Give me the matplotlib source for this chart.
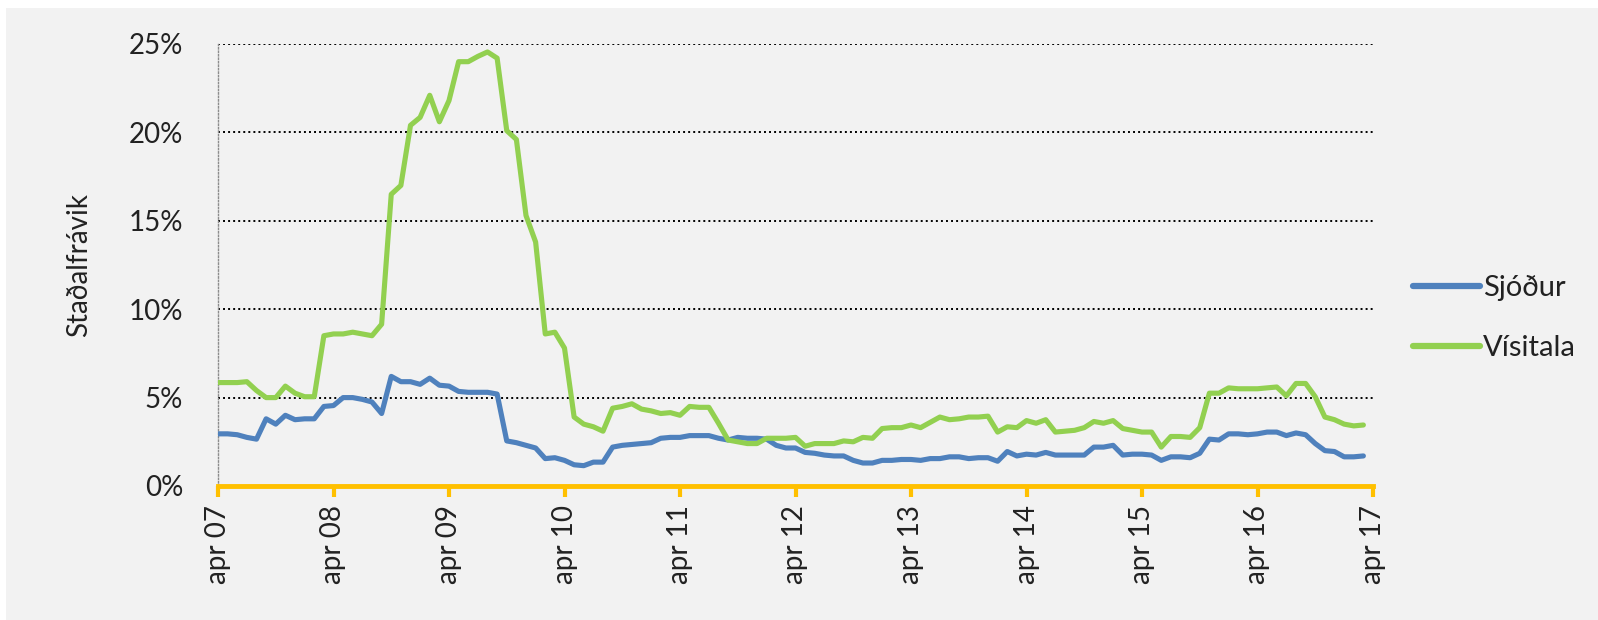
import matplotlib
matplotlib.use("Agg")
import matplotlib.pyplot as plt
from matplotlib.patches import Rectangle
from matplotlib.ticker import FuncFormatter

# Monthly standard deviation (%), April 2007 - March 2017
sjodur = [
    2.95, 2.95, 2.9, 2.75, 2.65, 3.8, 3.5, 4.0, 3.75, 3.8, 3.8, 4.5,
    4.55, 5.0, 5.0, 4.9, 4.75, 4.1, 6.2, 5.9, 5.9, 5.75, 6.1, 5.7,
    5.65, 5.35, 5.3, 5.3, 5.3, 5.2, 2.55, 2.45, 2.3, 2.15, 1.55, 1.6,
    1.45, 1.2, 1.15, 1.35, 1.35, 2.2, 2.3, 2.35, 2.4, 2.45, 2.7, 2.75,
    2.75, 2.85, 2.85, 2.85, 2.7, 2.6, 2.75, 2.7, 2.7, 2.65, 2.3, 2.15,
    2.15, 1.9, 1.85, 1.75, 1.7, 1.7, 1.45, 1.3, 1.3, 1.45, 1.45, 1.5,
    1.5, 1.45, 1.55, 1.55, 1.65, 1.65, 1.55, 1.6, 1.6, 1.4, 1.95, 1.7,
    1.8, 1.75, 1.9, 1.75, 1.75, 1.75, 1.75, 2.2, 2.2, 2.3, 1.75, 1.8,
    1.8, 1.75, 1.45, 1.65, 1.65, 1.6, 1.85, 2.65, 2.6, 2.95, 2.95, 2.9,
    2.95, 3.05, 3.05, 2.85, 3.0, 2.9, 2.4, 2.0, 1.95, 1.65, 1.65, 1.7,
]
visitala = [
    5.85, 5.85, 5.85, 5.9, 5.4, 5.0, 5.0, 5.65, 5.25, 5.05, 5.05, 8.5,
    8.6, 8.6, 8.7, 8.6, 8.5, 9.15, 16.5, 17.0, 20.4, 20.85, 22.1, 20.6,
    21.8, 24.0, 24.0, 24.3, 24.55, 24.2, 20.1, 19.6, 15.3, 13.8, 8.6, 8.7,
    7.8, 3.9, 3.5, 3.35, 3.1, 4.4, 4.5, 4.65, 4.35, 4.25, 4.1, 4.15,
    4.0, 4.5, 4.45, 4.45, 3.55, 2.6, 2.5, 2.4, 2.4, 2.7, 2.7, 2.7,
    2.75, 2.25, 2.4, 2.4, 2.4, 2.55, 2.5, 2.75, 2.7, 3.25, 3.3, 3.3,
    3.45, 3.3, 3.6, 3.9, 3.75, 3.8, 3.9, 3.9, 3.95, 3.05, 3.35, 3.3,
    3.7, 3.55, 3.75, 3.05, 3.1, 3.15, 3.3, 3.65, 3.55, 3.7, 3.25, 3.15,
    3.05, 3.05, 2.2, 2.8, 2.8, 2.75, 3.3, 5.25, 5.25, 5.55, 5.5, 5.5,
    5.5, 5.55, 5.6, 5.1, 5.8, 5.8, 5.05, 3.9, 3.75, 3.5, 3.4, 3.45,
]
year_labels = ["apr 07", "apr 08", "apr 09", "apr 10", "apr 11", "apr 12",
               "apr 13", "apr 14", "apr 15", "apr 16", "apr 17"]
y_ticks = [0, 5, 10, 15, 20, 25]
series_names = ["Sjóður", "Vísitala"]
y_title = "Staðalfrávik"

plt.rcParams["font.family"] = ["Lato", "DejaVu Sans"]
plt.rcParams["font.weight"] = "normal"

W, H = 1598, 620
fig = plt.figure(figsize=(W / 100, H / 100), dpi=100)
fig.patch.set_facecolor("white")
fig.add_artist(Rectangle((6 / W, 0), 1, 1 - 8 / H, transform=fig.transFigure,
                         facecolor="#f2f2f2", edgecolor="none", zorder=-10))

ax = fig.add_axes([218 / W, 1 - 486 / H, (1373 - 218) / W, (486 - 44) / H])
ax.set_facecolor("#f2f2f2")

months = list(range(len(sjodur)))
ax.plot(months, sjodur, color="#4f81bd", lw=3.7, solid_joinstyle="round",
        solid_capstyle="round", label=series_names[0], zorder=3)
ax.plot(months, visitala, color="#92d050", lw=3.7, solid_joinstyle="round",
        solid_capstyle="round", label=series_names[1], zorder=3)

ax.set_xlim(0, 120)
ax.set_ylim(0, 25)
ax.set_xticks(range(0, 121, 12))
ax.set_xticklabels(year_labels, rotation=90, fontsize=20, color="#222222")
ax.set_yticks(y_ticks)
ax.yaxis.set_major_formatter(FuncFormatter(lambda v, p: f"{v:.0f}%"))
ax.tick_params(axis="y", length=0, pad=25, labelsize=20, labelcolor="#222222")
ax.tick_params(axis="x", direction="out", length=8, width=3, color="#ffc000",
               pad=6)

for v in y_ticks[1:]:
    ax.axhline(v, color="black", lw=1.4, ls=(0, (1, 1.6)), zorder=1)

for s in ["top", "right"]:
    ax.spines[s].set_visible(False)
ax.spines["left"].set_color("#8c8c8c")
ax.spines["left"].set_linewidth(1.0)
ax.spines["left"].set_linestyle((0, (1, 1.5)))
ax.spines["bottom"].set_color("#ffc000")
ax.spines["bottom"].set_linewidth(3.5)
ax.spines["bottom"].set_zorder(4)

ax.set_ylabel(y_title, fontsize=20, color="#222222", fontweight="normal")
ax.yaxis.set_label_coords(-(218 - 92) / (1373 - 218), 0.5)

leg = ax.legend(loc="center left", bbox_to_anchor=(1.012, 0.38), frameon=False,
                fontsize=21, handlelength=2.3, handletextpad=0.1,
                labelspacing=1.15)
for line in leg.get_lines():
    line.set_linewidth(4.5)
for t in leg.get_texts():
    t.set_color("#222222")

fig.savefig("out.png", dpi=100, facecolor=fig.get_facecolor())
